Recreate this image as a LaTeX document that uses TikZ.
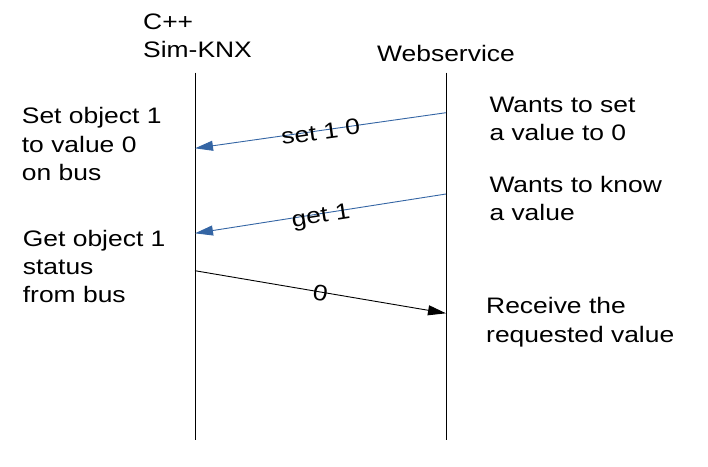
\documentclass[tikz,border=0pt]{standalone}
\usepackage{fontspec}
\setmainfont{Liberation Sans}[FakeStretch=1.18]
\usetikzlibrary{arrows.meta}
\definecolor{msgblue}{HTML}{3465A4}
\begin{document}
\begin{tikzpicture}[x=1pt,y=-1pt,
  txt/.style={anchor=north west,inner sep=0pt,align=left,font=\fontsize{22.4}{28.4}\selectfont},
  life/.style={line width=1pt},
  msg/.style={line width=0.9pt,-{Triangle[length=18pt,width=10pt]}},
  lbl/.style={midway,sloped,inner sep=0pt,text height=18pt,text depth=0pt,font=\fontsize{22.4}{28.4}\selectfont}]
  \useasboundingbox (0,0) rectangle (708,466);
  % headers
  \node[txt] (simknx) at (143,13.3) {C++\\Sim-KNX};
  \node[txt] (websvc) at (377,44.7) {Webservice};
  % lifelines
  \coordinate (simtop) at (195,72.5);
  \coordinate (simbot) at (195,440);
  \coordinate (webtop) at (446,72.5);
  \coordinate (webbot) at (446,440);
  \draw[life] (simtop) -- (simbot);
  \draw[life] (webtop) -- (webbot);
  % messages
  \coordinate (setws) at (446,112.7);
  \coordinate (setsim) at (195,148.3);
  \coordinate (getws) at (446,194);
  \coordinate (getsim) at (195,233.3);
  \coordinate (valsim) at (195,270.7);
  \coordinate (valws) at (446,313.3);
  \draw[msg,msgblue] (setws) -- (setsim) node[lbl,black]{set 1 0};
  \draw[msg,msgblue] (getws) -- (getsim) node[lbl,black]{get 1};
  \draw[msg,black] (valsim) -- (valws) node[lbl]{0};
  % notes
  \node[txt] (setnote) at (21.7,107.3) {Set object 1\\to value 0\\on bus};
  \node[txt] (getnote) at (22.7,229.7) {Get object 1\\status\\from bus};
  \node[txt] (wantset) at (489.3,96.7) {Wants to set\\a value to 0};
  \node[txt] (wantget) at (489.3,175.7) {Wants to know\\a value};
  \node[txt] (recv) at (486,297.3) {Receive the\\requested value};
\end{tikzpicture}
\end{document}
